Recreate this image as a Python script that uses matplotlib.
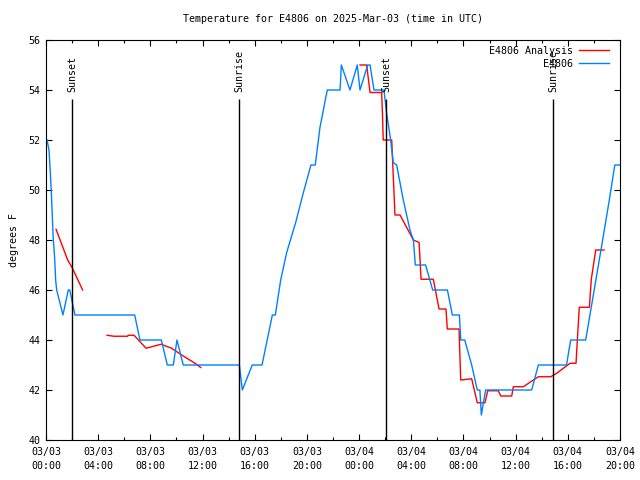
import numpy as np
import matplotlib
matplotlib.use("Agg")
import matplotlib.pyplot as plt
from matplotlib.ticker import MultipleLocator

# ---- data (hours since 2025-03-03 00:00 UTC) ----
obs_t = [0.08, 0.23, 0.33, 0.41, 0.48, 0.55, 0.66, 0.74, 0.82, 1.30, 1.71, 1.82, 2.22,
         6.80, 7.20, 8.84, 9.30, 9.76, 10.04, 10.52, 14.82, 15.05, 15.81, 16.56,
         17.35, 17.58, 17.99, 18.45, 19.14, 19.73, 20.31, 20.64, 21.00, 21.56,
         22.54, 22.64, 23.30, 23.86, 24.07, 24.66, 24.84, 25.14, 25.91, 26.10,
         26.42, 26.62, 26.88, 27.39, 27.90, 28.16, 28.31, 29.10, 29.64, 30.77,
         31.15, 31.69, 31.79, 32.10, 32.63, 33.06, 33.26, 33.37, 33.70, 37.23,
         37.74, 39.90, 40.22, 41.37, 42.67, 43.18, 43.60, 44.00]
obs_v = [52.0, 51.6, 50.7, 49.9, 49.0, 48.1, 47.3, 46.4, 46.0, 45.0, 46.0, 46.0, 45.0,
         45.0, 44.0, 44.0, 43.0, 43.0, 44.0, 43.0, 43.0, 42.0, 43.0, 43.0,
         45.0, 45.0, 46.4, 47.5, 48.7, 49.9, 51.0, 51.0, 52.5, 54.0,
         54.0, 55.0, 54.0, 55.0, 54.0, 55.0, 55.0, 54.0, 54.0, 53.1,
         52.0, 51.1, 51.0, 49.6, 48.4, 48.0, 47.0, 47.0, 46.0, 46.0,
         45.0, 45.0, 44.0, 44.0, 43.0, 42.0, 42.0, 41.0, 42.0, 42.0,
         43.0, 43.0, 44.0, 44.0, 48.0, 49.6, 51.0, 51.0]

ana_t = [0.77, 1.30, 1.66, 2.00, 2.81, np.nan,
         4.68, 5.21, 6.24, 6.31, 6.75, 7.67, 8.82, 9.63, 10.40, 11.42, 11.86, np.nan,
         24.07, 24.58, 24.84, 25.73, 25.80, 25.85, 26.50, 26.75, 27.14, 28.16, 28.60,
         28.75, 29.69, 30.13, 30.66, 30.76, 31.66, 31.79, 32.63, 33.06, 33.65, 33.86,
         34.67, 34.86, 35.70, 35.82, 36.59, 37.74, 38.69, 39.15, 40.17, 40.63, 40.73,
         40.88, 41.65, 41.80, 42.14, 42.78]
ana_v = [48.43, 47.70, 47.20, 46.90, 46.00, np.nan,
         44.19, 44.15, 44.15, 44.19, 44.19, 43.67, 43.83, 43.67, 43.40, 43.07, 42.90, np.nan,
         55.00, 55.00, 53.90, 53.90, 52.90, 52.00, 52.00, 49.00, 49.00, 48.00, 47.90,
         46.43, 46.43, 45.24, 45.24, 44.44, 44.44, 42.40, 42.45, 41.49, 41.49, 41.97,
         41.97, 41.76, 41.76, 42.13, 42.13, 42.53, 42.53, 42.67, 43.07, 43.07, 44.00,
         45.31, 45.31, 46.43, 47.60, 47.60]

sun_t = [2.00, 14.80, 26.06, 38.87]
sun_labels = ["Sunset", "Sunrise", "Sunset", "Sunrise"]

xtick_pos = [0, 4, 8, 12, 16, 20, 24, 28, 32, 36, 40, 44]
xtick_labels = ["03/03\n00:00", "03/03\n04:00", "03/03\n08:00", "03/03\n12:00",
                "03/03\n16:00", "03/03\n20:00", "03/04\n00:00", "03/04\n04:00",
                "03/04\n08:00", "03/04\n12:00", "03/04\n16:00", "03/04\n20:00"]
ytick_pos = [40, 42, 44, 46, 48, 50, 52, 54, 56]

# ---- figure ----
plt.rcParams['font.family'] = ['DejaVu Sans Mono']
FS = 7.2
fig = plt.figure(figsize=(6.4, 4.8), dpi=100)
ax = fig.add_axes([46/640, 40/480, 574/640, 400/480])

ax.plot(ana_t, ana_v, color='#ff0000', lw=1.0, label="E4806 Analysis")
ax.plot(obs_t, obs_v, color='#0080ff', lw=1.0, label="         E4806")

ax.vlines(sun_t, 40, 53.64, color='black', lw=1.0)
for t, lab in zip(sun_t, sun_labels):
    ax.text(t, 53.92, lab, rotation=90, ha='center', va='bottom', fontsize=FS)

ax.set_xlim(0, 44)
ax.set_ylim(40, 56)
ax.set_xticks(xtick_pos)
ax.set_xticklabels(xtick_labels, fontsize=FS, linespacing=1.5)
ax.xaxis.set_minor_locator(MultipleLocator(2))
ax.set_yticks(ytick_pos)
ax.set_yticklabels([str(v) for v in ytick_pos], fontsize=FS)
ax.tick_params(which='both', direction='in', top=True, right=True, width=0.8)
ax.tick_params(which='major', length=4.5)
ax.tick_params(which='minor', length=2.5)
ax.tick_params(axis='x', pad=5)
ax.tick_params(axis='y', pad=4)
for s in ax.spines.values():
    s.set_linewidth(0.8)

ax.set_ylabel("degrees F", fontsize=FS, labelpad=7)
fig.text(333/640, 1 - 19/480, "Temperature for E4806 on 2025-Mar-03 (time in UTC)",
         ha='center', va='center', fontsize=FS)

ax.legend(loc='upper right', bbox_to_anchor=(1.0 - 5/574, 1.0), frameon=False,
          markerfirst=False, fontsize=FS, handlelength=3.0, handletextpad=0.6,
          labelspacing=0.3, borderaxespad=0.3, borderpad=0.3)

fig.savefig("out.png", dpi=100)
